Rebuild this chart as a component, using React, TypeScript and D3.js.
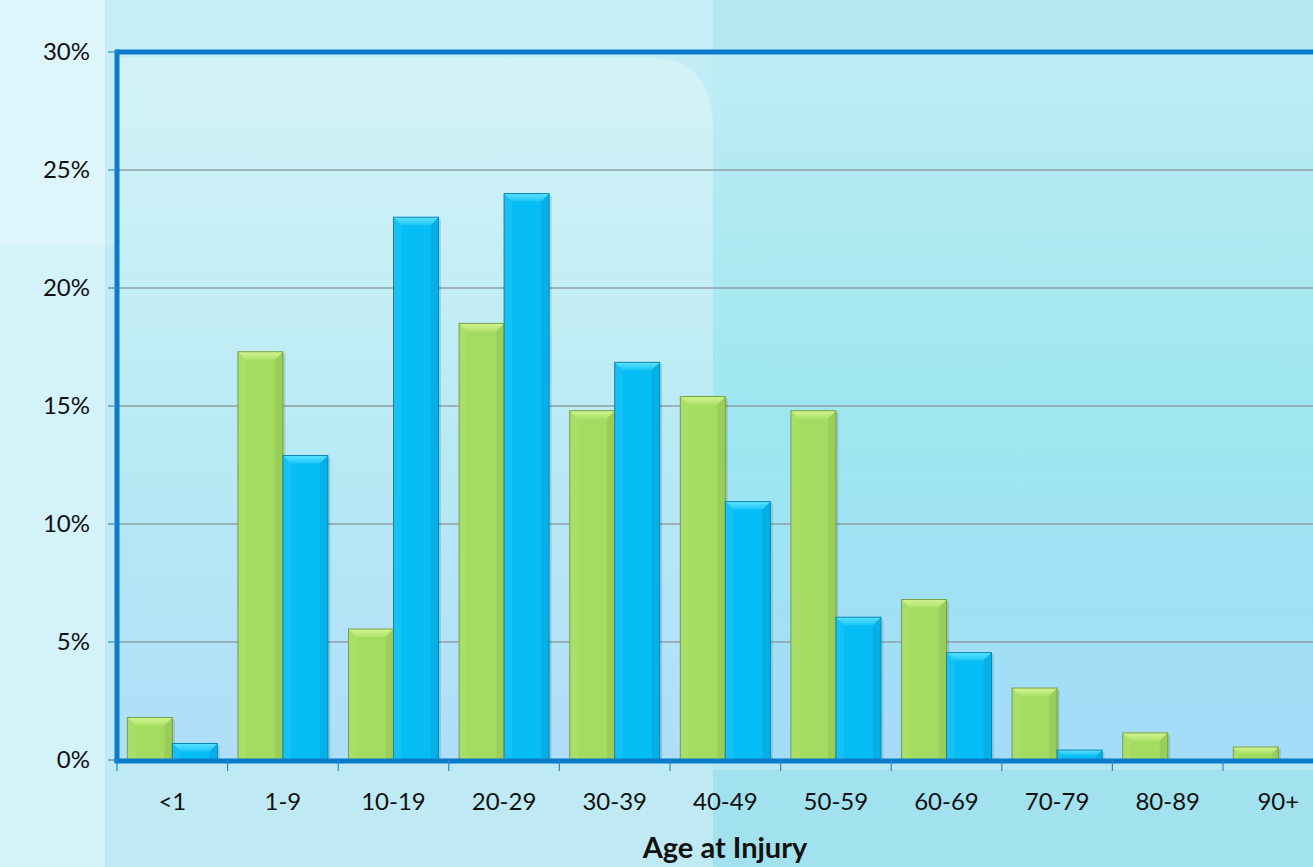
import React from "react";
import * as d3 from "d3";

const categories = ["<1", "1-9", "10-19", "20-29", "30-39", "40-49", "50-59", "60-69", "70-79", "80-89", "90+"];
const greenValues = [1.8, 17.3, 5.55, 18.5, 14.8, 15.4, 14.8, 6.8, 3.05, 1.15, 0.55];
const blueValues = [0.7, 12.9, 23.0, 24.0, 16.85, 10.95, 6.05, 4.55, 0.42, 0, 0];
const yTicks = [0, 5, 10, 15, 20, 25, 30];
const xTitle = "Age at Injury";

const W = 1313;
const H = 867;
const left = 117;
const top = 52;
const bottom = 760;
const right = left + 11 * 110.6;

const FONT = "Lato, 'Noto Sans', sans-serif";

function Bar({ x, y, w, h, main, edge, side, id }: any) {
  if (h <= 0.5) return null;
  const b = Math.min(8, h / 2, w / 2);
  return (
    <g>
      <rect x={x} y={y} width={w} height={h} fill={main} />
      <polygon points={`${x},${y} ${x + b},${y + b} ${x + b},${y + h} ${x},${y + h}`} fill={side} opacity={0.35} />
      <polygon points={`${x + w},${y} ${x + w - b},${y + b} ${x + w - b},${y + h} ${x + w},${y + h}`} fill={edge} opacity={0.22} />
      <polygon points={`${x},${y} ${x + w},${y} ${x + w - b},${y + b} ${x + b},${y + b}`} fill={`url(#${id})`} />
      <rect x={x} y={y} width={w} height={h} fill="none" stroke={edge} strokeWidth={1} />
      <line x1={x + w + 1.5} x2={x + w + 1.5} y1={y + 2} y2={y + h} stroke="#000" strokeOpacity={0.12} strokeWidth={2} />
    </g>
  );
}

export default function App() {
  const y = d3.scaleLinear().domain([0, 30]).range([bottom, top]);
  const x = d3.scaleBand<string>().domain(categories).range([left, right]).padding(0);
  const inner = d3.scaleBand<string>().domain(["g", "b"]).range([0, x.bandwidth()]).paddingInner(0).paddingOuter(0.229);

  return (
    <div style={{ position: "fixed", left: 0, top: 0, width: W, height: H }}>
      <svg width={W} height={H} style={{ display: "block" }}>
        <defs>
          <linearGradient id="plotBg" x1="0" y1="0" x2="0" y2="1">
            <stop offset="0%" stopColor="#c2edf5" />
            <stop offset="55%" stopColor="#aae6f2" />
            <stop offset="100%" stopColor="#a8dbf8" />
          </linearGradient>
          <linearGradient id="plotBgR" x1="0" y1="0" x2="0" y2="1">
            <stop offset="0%" stopColor="#bfecf4" />
            <stop offset="50%" stopColor="#9ee7f0" />
            <stop offset="100%" stopColor="#a4dcf8" />
          </linearGradient>
          <linearGradient id="gloss" x1="0" y1="0" x2="0" y2="1">
            <stop offset="0%" stopColor="#ffffff" stopOpacity={0.28} />
            <stop offset="100%" stopColor="#ffffff" stopOpacity={0.08} />
          </linearGradient>
          <linearGradient id="gTop" x1="0" y1="0" x2="0" y2="1">
            <stop offset="0%" stopColor="#d2f590" />
            <stop offset="100%" stopColor="#aee26a" />
          </linearGradient>
          <linearGradient id="bTop" x1="0" y1="0" x2="0" y2="1">
            <stop offset="0%" stopColor="#5fe2ff" />
            <stop offset="100%" stopColor="#1ac6f8" />
          </linearGradient>
        </defs>
        {/* page background */}
        <rect x={0} y={0} width={W} height={H} fill="#bfeaf4" />
        <rect x={713} y={0} width={W - 713} height={H} fill="#b6e8f1" />
        <rect x={713} y={770} width={W - 713} height={H - 770} fill="#a2e1ee" />
        <rect x={0} y={0} width={105} height={H} fill="#d4f2f9" />
        <rect x={0} y={0} width={105} height={245} fill="#ddf5fb" />
        <rect x={105} y={0} width={608} height={245} fill="#c6eef6" />

        {/* plot area */}
        <rect x={left} y={top} width={713 - left} height={bottom - top} fill="url(#plotBg)" />
        <rect x={713} y={top} width={right - 713} height={bottom - top} fill="url(#plotBgR)" />
        <path
          d={`M${left},${top + 6} L653,${top + 6} Q713,${top + 6} 713,${top + 80} L713,${bottom} L${left},${bottom} Z`}
          fill="url(#gloss)"
        />

        {/* gridlines */}
        {yTicks.filter((t) => t > 0 && t < 30).map((t) => (
          <line key={t} x1={left} x2={right} y1={y(t)} y2={y(t)} stroke="#8f9fa3" strokeWidth={1.3} />
        ))}

        {/* bars */}
        {categories.map((c, i) => {
          const x0 = x(c)!;
          return (
            <g key={c}>
              <Bar
                id="gTop"
                x={x0 + inner("g")!}
                y={y(greenValues[i])}
                w={inner.bandwidth()}
                h={bottom - y(greenValues[i])}
                main="#a4dc62"
                edge="#78a043"
                side="#b5e673"
              />
              <Bar
                id="bTop"
                x={x0 + inner("b")!}
                y={y(blueValues[i])}
                w={inner.bandwidth()}
                h={bottom - y(blueValues[i])}
                main="#06bdf6"
                edge="#0a86b0"
                side="#30cbfa"
              />
            </g>
          );
        })}

        {/* frame */}
        <line x1={left} x2={right + 5} y1={top} y2={top} stroke="#0a7bc9" strokeWidth={5} />
        <line x1={left} x2={left} y1={top - 2.5} y2={bottom + 2} stroke="#0a7bc9" strokeWidth={5} />
        <line x1={left - 2.5} x2={right + 5} y1={bottom + 1} y2={bottom + 1} stroke="#0a7bc9" strokeWidth={5} />

        {/* y ticks */}
        {yTicks.map((t) => (
          <g key={t}>
            <line x1={108} x2={left} y1={y(t)} y2={y(t)} stroke="#2a8ad0" strokeWidth={1.2} />
            <text x={90} y={y(t) + 8} textAnchor="end" fontFamily={FONT} fontSize={24} fill="#111">
              {`${t}%`}
            </text>
          </g>
        ))}

        {/* x ticks */}
        {categories.map((c) => (
          <line key={c} x1={x(c)!} x2={x(c)!} y1={bottom} y2={bottom + 11} stroke="#2a8ad0" strokeWidth={1.2} />
        ))}
        {categories.map((c) => (
          <text
            key={c}
            x={x(c)! + x.bandwidth() / 2}
            y={bottom + 50}
            textAnchor="middle"
            fontFamily={FONT}
            fontSize={24}
            fill="#111"
          >
            {c}
          </text>
        ))}

        <text x={725} y={858} textAnchor="middle" fontFamily={FONT} fontWeight="bold" fontSize={29} fill="#111">
          {xTitle}
        </text>
      </svg>
    </div>
  );
}
